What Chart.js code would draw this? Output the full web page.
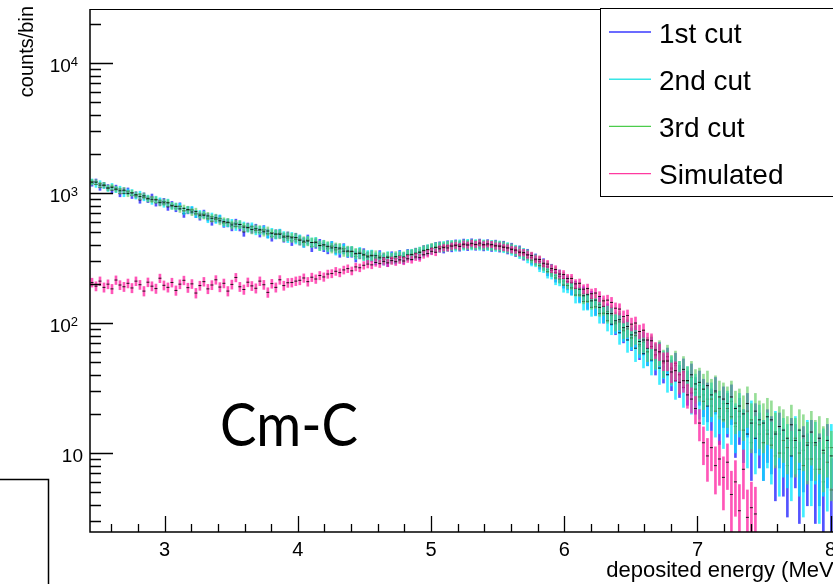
<!DOCTYPE html>
<html>
<head>
<meta charset="utf-8">
<script src="https://cdn.jsdelivr.net/npm/chart.js@4"></script>
<style>
  html, body { margin: 0; padding: 0; background: #fff; overflow: hidden; }
  #wrap { position: relative; width: 833px; height: 584px; overflow: hidden; }
  #spectrum { position: absolute; left: 0; top: 0; }
</style>
</head>
<body>
<div id="wrap"><canvas id="spectrum" width="850" height="584"></canvas></div>
<script>
// Cm-C deposited energy spectra, histogram bins of 0.03 MeV from 2.44 MeV
const binStart = 2.44;
const binWidth = 0.03;
const xTicks = [3, 4, 5, 6, 7, 8];
const yDecades = [10, 100, 1000, 10000];
const seriesNames = ['1st cut', '2nd cut', '3rd cut', 'Simulated'];

const cut1 = [
  1186, 1222, 1104, 1150, 1105, 1050, 1093, 988, 1040, 1039,
  959, 969, 884, 950, 894, 930, 841, 850, 859, 782,
  813, 764, 793, 693, 737, 735, 691, 661, 694, 652,
  606, 637, 629, 585, 590, 551, 588, 550, 502, 548,
  529, 536, 496, 523, 490, 462, 484, 486, 454, 465,
  429, 454, 433, 417, 440, 387, 409, 406, 387, 373,
  390, 372, 352, 375, 351, 352, 325, 343, 342, 320,
  329, 310, 330, 312, 301, 323, 315, 331, 315, 337,
  332, 345, 338, 362, 364, 372, 384, 388, 378, 396,
  386, 402, 390, 408, 394, 410, 396, 408, 392, 404,
  388, 400, 384, 392, 372, 378, 356, 360, 335, 338,
  312, 310, 288, 284, 258, 256, 232, 230, 210, 204,
  188, 186, 166, 168, 148, 154, 134, 138, 118, 122,
  114, 98, 102, 86, 90, 76, 80, 66, 71, 60,
  64, 52, 58, 46, 52, 41, 47, 37, 42, 33,
  38, 29, 33, 28, 26, 23, 29, 19, 24, 21,
  25, 16, 19, 15, 21, 12, 17, 14, 12, 15,
  13, 9.5, 14, 10, 8, 12.5, 11, 7.5, 10.5, 9,
  12, 7.5, 9, 6, 11, 5.2, 9.5, 7
];

const cut2 = [
  1222, 1162, 1185, 1139, 1083, 1127, 1061, 1072, 989, 1019,
  1009, 950, 979, 922, 912, 867, 894, 868, 825, 848,
  797, 788, 785, 730, 744, 743, 691, 689, 681, 633,
  658, 625, 636, 591, 590, 586, 554, 572, 558, 538,
  550, 515, 517, 518, 485, 497, 479, 490, 468, 451,
  461, 441, 441, 417, 431, 416, 421, 394, 399, 385,
  390, 365, 370, 371, 354, 356, 339, 350, 332, 330,
  333, 317, 323, 308, 323, 317, 315, 327, 319, 333,
  338, 340, 352, 356, 368, 372, 380, 382, 390, 388,
  398, 390, 402, 396, 406, 398, 404, 396, 402, 394,
  398, 388, 394, 380, 382, 364, 364, 344, 344, 320,
  304, 300, 276, 272, 248, 244, 222, 218, 196, 194,
  186, 164, 164, 146, 146, 132, 133, 118, 119, 104,
  98, 100, 84, 88, 74, 77, 64, 68, 58, 60,
  52, 56, 45, 49, 40, 44, 36, 40, 32, 36,
  29, 31, 27, 25, 23, 26, 21, 22, 18, 22,
  19, 17, 21, 15, 14, 18, 13, 16.5, 12, 14,
  11.5, 14.5, 10, 12.5, 11, 9.5, 13, 10, 8, 12,
  9, 11.5, 7.5, 10, 8.5, 11, 6.5, 9.5
];

const cut3 = [
  1210, 1210, 1150, 1150, 1094, 1105, 1072, 1040, 1051, 989,
  999, 969, 941, 950, 903, 894, 885, 842, 850, 839,
  797, 788, 755, 761, 744, 714, 719, 675, 674, 666,
  639, 644, 611, 603, 596, 568, 577, 572, 546, 543,
  523, 530, 522, 503, 510, 487, 484, 481, 459, 465,
  452, 454, 433, 426, 427, 416, 417, 394, 399, 389,
  378, 380, 377, 357, 358, 356, 343, 343, 335, 323,
  329, 329, 317, 318, 320, 314, 324, 321, 322, 333,
  336, 344, 350, 362, 366, 376, 382, 385, 386, 392,
  395, 398, 396, 402, 400, 404, 400, 404, 398, 400,
  395, 396, 390, 388, 378, 374, 360, 354, 340, 334,
  320, 306, 298, 280, 270, 254, 244, 228, 220, 208,
  204, 184, 182, 162, 165, 148, 150, 132, 134, 118,
  118, 104, 106, 92, 94, 81, 84, 72, 74, 64,
  66, 57, 60, 50, 55, 45, 49, 40, 44, 36,
  40, 34, 35, 31, 33, 28, 30, 27, 26, 24,
  27, 22, 23, 20, 24, 17, 21, 18, 17, 19,
  18, 14, 16, 15, 13, 16.5, 12.5, 15, 13.5, 11.5,
  14.5, 12, 13, 10.5, 12.5, 9.5, 13, 10
];

const simulated = [
  205, 192, 210, 188, 199, 183, 214, 196, 190, 202,
  186, 210, 197, 176, 206, 192, 184, 221, 195, 188,
  205, 178, 199, 213, 187, 200, 170, 194, 208, 183,
  196, 215, 189, 202, 176, 198, 224, 190, 181, 206,
  193, 185, 210, 197, 172, 201, 188, 215, 194, 204,
  205, 210, 213, 222, 208, 225, 218, 232, 226, 238,
  240, 250, 244, 256, 262, 252, 270, 266, 278, 284,
  280, 292, 286, 298, 290, 302, 296, 306, 300, 312,
  308, 322, 318, 335, 342, 356, 350, 372, 380, 378,
  390, 396, 388, 404, 398, 410, 402, 412, 400, 406,
  402, 392, 390, 382, 378, 368, 364, 350, 348, 334,
  330, 310, 308, 288, 284, 262, 258, 238, 236, 220,
  220, 200, 202, 182, 184, 168, 170, 160, 148, 150,
  144, 130, 128, 112, 114, 98, 100, 86, 88, 74,
  73, 62, 60, 51, 51, 42, 43, 35, 36, 28,
  26, 22, 17, 12, 9.5, 11, 8, 9, 6.5, 8.5,
  4.8, 6, 3.6, 7.5, 3.2, 3.8, 3.4, null, null, null,
  null, null, null, null, null, null, null, null, null, null,
  null, null, null, null, null, null, null, null
];

const series = [cut1, cut2, cut3, simulated];
const barColors = ['rgba(25,25,255,0.75)', 'rgba(0,232,255,0.75)', 'rgba(95,205,95,0.65)', 'rgba(255,30,160,0.75)'];
const lineColors = ['#3a3aff', '#38e6e6', '#4ccc4c', '#ff3aa0'];
// entries per unit of the normalised spectra, used for the Poisson error bars
const statScale = [0.35, 0.35, 0.35, 0.8];

const datasets = [];
series.forEach((vals, i) => {
  const bars = [];
  const marks = [];
  vals.forEach((v, k) => {
    if (v == null) return;
    const x = binStart + binWidth * (k + 0.5);
    const err = Math.sqrt(v / statScale[i]);
    bars.push({ x: x, y: [Math.max(v - err, 0.3), v + err] });
    marks.push({ x: x, y: v });
  });
  datasets.push({
    type: 'bar', label: seriesNames[i], data: bars,
    backgroundColor: barColors[i], barThickness: 2, grouped: false, order: 8 - 2 * i
  });
  datasets.push({
    type: 'scatter', label: seriesNames[i] + ' markers', data: marks,
    pointStyle: 'line', pointRadius: 1.5, borderColor: 'rgba(0,0,0,0.85)', borderWidth: 1,
    showLine: false, order: 7 - 2 * i
  });
});

// ROOT-like frame, ticks, labels, legend and annotation
const rootFrame = {
  id: 'rootFrame',
  beforeDraw(chart) {
    const ctx = chart.ctx;
    ctx.save();
    ctx.fillStyle = '#fff';
    ctx.fillRect(0, 0, chart.width, chart.height);
    ctx.restore();
  },
  afterDraw(chart) {
    const { ctx, chartArea: a, scales: { x, y } } = chart;
    ctx.save();
    ctx.strokeStyle = '#000';
    ctx.fillStyle = '#000';

    ctx.lineWidth = 1.5;
    ctx.beginPath();
    ctx.moveTo(a.left, a.top);
    ctx.lineTo(a.left, a.bottom);
    ctx.lineTo(a.right, a.bottom);
    ctx.stroke();
    ctx.lineWidth = 1;
    ctx.beginPath();
    ctx.moveTo(a.left, a.top + 0.5);
    ctx.lineTo(a.right, a.top + 0.5);
    ctx.stroke();

    // x ticks
    ctx.lineWidth = 1.3;
    ctx.beginPath();
    for (let i = 13; i <= 40; i++) {
      const v = i * 0.2;
      const px = Math.round(x.getPixelForValue(v)) + 0.5;
      const len = i % 5 === 0 ? 16 : 8;
      ctx.moveTo(px, a.bottom);
      ctx.lineTo(px, a.bottom - len);
    }
    // y ticks
    [1, 10, 100, 1000, 10000].forEach(d => {
      for (let m = 1; m <= 9; m++) {
        const v = d * m;
        if (v < y.min || v > y.max) continue;
        const py = Math.round(y.getPixelForValue(v)) + 0.5;
        const len = m === 1 ? 23 : 11;
        ctx.moveTo(a.left, py);
        ctx.lineTo(a.left + len, py);
      }
    });
    ctx.stroke();

    // x labels
    ctx.font = '20px "Liberation Sans", Arial, sans-serif';
    ctx.textAlign = 'center';
    ctx.textBaseline = 'alphabetic';
    xTicks.forEach(t => ctx.fillText(String(t), x.getPixelForValue(t), 556));

    // y labels
    yDecades.forEach(v => {
      const py = y.getPixelForValue(v);
      const exp = Math.round(Math.log10(v));
      ctx.textAlign = 'right';
      if (exp === 1) {
        ctx.font = '19px "Liberation Sans", Arial, sans-serif';
        ctx.fillText('10', 83, py + 9);
      } else {
        ctx.font = '13px "Liberation Sans", Arial, sans-serif';
        ctx.fillText(String(exp), 78, py + 3);
        const ew = ctx.measureText(String(exp)).width;
        ctx.font = '19px "Liberation Sans", Arial, sans-serif';
        ctx.fillText('10', 78 - ew, py + 9);
      }
    });

    // axis titles
    ctx.font = '22px "Liberation Sans", Arial, sans-serif';
    ctx.textAlign = 'right';
    ctx.fillText('deposited energy (MeV)', 841, 577);
    ctx.save();
    ctx.translate(33, 6);
    ctx.rotate(-Math.PI / 2);
    ctx.font = '20px "Liberation Sans", Arial, sans-serif';
    ctx.textAlign = 'right';
    ctx.fillText('counts/bin', 0, 0);
    ctx.restore();

    // legend
    ctx.fillStyle = '#fff';
    ctx.fillRect(600.5, 8.5, 260, 188);
    ctx.lineWidth = 1;
    ctx.strokeStyle = '#000';
    ctx.strokeRect(600.5, 8.5, 260, 188);
    ctx.font = '28px "Liberation Sans", Arial, sans-serif';
    ctx.textAlign = 'left';
    seriesNames.forEach((name, i) => {
      const ly = 32 + i * 47.2;
      ctx.strokeStyle = lineColors[i];
      ctx.lineWidth = 1.4;
      ctx.beginPath();
      ctx.moveTo(609, ly);
      ctx.lineTo(651, ly);
      ctx.stroke();
      ctx.fillStyle = '#000';
      ctx.fillText(name, 659, ly + 10.5);
    });

    // sample label
    ctx.font = '60px Lato, "Open Sans", sans-serif';
    ctx.textAlign = 'left';
    const w = ctx.measureText('Cm-C').width;
    ctx.save();
    ctx.translate(220, 446);
    ctx.scale(138 / w, 1);
    ctx.fillStyle = '#000';
    ctx.fillText('Cm-C', 0, 0);
    ctx.restore();

    // edge of the neighbouring pad
    ctx.strokeStyle = '#000';
    ctx.lineWidth = 1.5;
    ctx.beginPath();
    ctx.moveTo(0, 479.5);
    ctx.lineTo(48.5, 479.5);
    ctx.lineTo(48.5, 584);
    ctx.stroke();
    ctx.restore();
  }
};

new Chart(document.getElementById('spectrum'), {
  type: 'bar',
  data: { datasets: datasets },
  options: {
    responsive: false,
    animation: false,
    devicePixelRatio: 1,
    layout: { padding: { left: 90, top: 9, right: 10, bottom: 52 } },
    scales: {
      x: { type: 'linear', min: 2.44, max: 8.07, offset: false, display: false },
      y: { type: 'logarithmic', min: 2.47, max: 26000, display: false }
    },
    plugins: { legend: { display: false }, tooltip: { enabled: false } }
  },
  plugins: [rootFrame]
});
</script>
</body>
</html>
